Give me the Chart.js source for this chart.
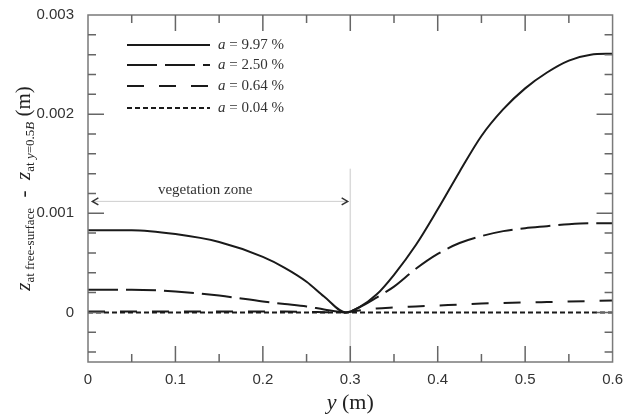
<!DOCTYPE html>
<html>
<head>
<meta charset="utf-8">
<script src="https://cdn.jsdelivr.net/npm/chart.js@4/dist/chart.umd.min.js"></script>
<style>
  html, body { margin: 0; padding: 0; background: #fff; }
</style>
</head>
<body>
<canvas id="chart" width="624" height="418"></canvas>
<script>
// ===== DATA =====
const yPositions = [0, 0.05, 0.1, 0.15, 0.2, 0.225, 0.25, 0.27, 0.295, 0.31, 0.33, 0.35, 0.375, 0.4, 0.425, 0.45, 0.475, 0.5, 0.525, 0.55, 0.575, 0.6];
const dz997 = [0.00083, 0.00083, 0.00079, 0.00071, 0.00056, 0.00045, 0.00031, 0.00016, 0, 0.00005, 0.00018, 0.00038, 0.00068, 0.00104, 0.00142, 0.00178, 0.00205, 0.00226, 0.00242, 0.00254, 0.0026, 0.00261];
const dz250 = [0.00023, 0.00023, 0.00021, 0.00017, 0.00011, 0.000085, 0.00006, 0.00003, 0, 0.00005, 0.00015, 0.00026, 0.00044, 0.00059, 0.0007, 0.00077, 0.00082, 0.00085, 0.00087, 0.00089, 0.0009, 0.0009];
const dz064 = [0.00001, 0.00001, 0.00001, 0.00001, 0.00001, 0.00001, 0.000005, 0.000003, 0, 0.00002, 0.00004, 0.00005, 0.00006, 0.00007, 0.00008, 0.00009, 0.000095, 0.0001, 0.000105, 0.00011, 0.000115, 0.00012];
const dz004 = [0, 0, 0, 0, 0, 0, 0, 0, 0, 0, 0, 0, 0, 0, 0, 0, 0, 0, 0, 0, 0, 0];

const seriesLabels = ['9.97', '2.50', '0.64', '0.04'];
const xTickLabels = ['0', '0.1', '0.2', '0.3', '0.4', '0.5', '0.6'];
const yTickLabels = ['0', '0.001', '0.002', '0.003'];

const vegetationEdge = 0.3;

// ===== HELPERS =====
function toPoints(values) {
    return values.map((v, i) => ({ x: yPositions[i], y: v }));
}

function makeDataset(label, values, dash) {
    return {
        label: label,
        data: toPoints(values),
        borderColor: '#1a1a1a',
        borderWidth: 2,
        borderDash: dash,
        pointRadius: 0,
        fill: false,
        cubicInterpolationMode: 'monotone'
    };
}

const SERIF = '"Liberation Serif", "DejaVu Serif", serif';
const SANS = '"Liberation Sans", Arial, sans-serif';

// draw a run of text pieces, each with its own font and baseline shift
function drawRich(ctx, pieces, x, y) {
    let w = 0;
    pieces.forEach(p => { ctx.font = p.font; w += ctx.measureText(p.t).width; });
    let cx = x - w / 2;
    pieces.forEach(p => {
        ctx.font = p.font;
        ctx.fillText(p.t, cx, y + (p.dy || 0));
        cx += ctx.measureText(p.t).width;
    });
}

// frame, inside ticks, annotations, legend and axis titles
const decorPlugin = {
    id: 'decor',
    beforeDatasetsDraw(chart) {
        const ctx = chart.ctx;
        const xs = chart.scales.x, ys = chart.scales.y;
        const area = chart.chartArea;
        ctx.save();

        // vegetation boundary line
        const vx = xs.getPixelForValue(vegetationEdge);
        ctx.strokeStyle = '#dadada';
        ctx.lineWidth = 1.5;
        ctx.beginPath();
        ctx.moveTo(vx, ys.getPixelForValue(0.00145));
        ctx.lineTo(vx, area.bottom);
        ctx.stroke();

        // double arrow for the vegetation zone
        const ay = ys.getPixelForValue(0.00112);
        const ax1 = xs.getPixelForValue(0.005), ax2 = xs.getPixelForValue(0.297);
        ctx.strokeStyle = '#cfcfcf';
        ctx.lineWidth = 1;
        ctx.beginPath();
        ctx.moveTo(ax1, ay);
        ctx.lineTo(ax2, ay);
        ctx.stroke();
        ctx.strokeStyle = '#333';
        ctx.lineWidth = 1.5;
        ctx.beginPath();
        ctx.moveTo(ax1 + 6, ay - 3.5); ctx.lineTo(ax1, ay); ctx.lineTo(ax1 + 6, ay + 3.5);
        ctx.moveTo(ax2 - 6, ay - 3.5); ctx.lineTo(ax2, ay); ctx.lineTo(ax2 - 6, ay + 3.5);
        ctx.stroke();

        ctx.fillStyle = '#333';
        ctx.font = '15px ' + SERIF;
        ctx.textAlign = 'center';
        ctx.textBaseline = 'alphabetic';
        ctx.fillText('vegetation zone', xs.getPixelForValue(0.134), ys.getPixelForValue(0.00119));
        ctx.restore();
    },
    afterDraw(chart) {
        const ctx = chart.ctx;
        const xs = chart.scales.x, ys = chart.scales.y;
        const area = chart.chartArea;
        ctx.save();

        // frame
        ctx.strokeStyle = '#7a7a7a';
        ctx.lineWidth = 1.5;
        ctx.strokeRect(area.left, area.top, area.right - area.left, area.bottom - area.top);

        // inside ticks on all four sides
        ctx.strokeStyle = '#666';
        ctx.beginPath();
        for (let i = 1; i < 12; i++) {
            const v = i * 0.05;
            const px = xs.getPixelForValue(v);
            const len = i % 2 === 0 ? 16 : 8;
            ctx.moveTo(px, area.bottom); ctx.lineTo(px, area.bottom - len);
            ctx.moveTo(px, area.top); ctx.lineTo(px, area.top + len);
        }
        for (let i = -2; i < 15; i++) {
            const v = i * 0.0002;
            const py = ys.getPixelForValue(v);
            const len = i % 5 === 0 ? 16 : 8;
            ctx.moveTo(area.left, py); ctx.lineTo(area.left + len, py);
            ctx.moveTo(area.right, py); ctx.lineTo(area.right - len, py);
        }
        ctx.stroke();

        // legend
        const rows = [45, 65, 86, 108];
        chart.data.datasets.forEach((ds, i) => {
            const y = rows[i];
            ctx.strokeStyle = ds.borderColor;
            ctx.lineWidth = ds.borderWidth;
            ctx.setLineDash(ds.borderDash || []);
            ctx.beginPath();
            ctx.moveTo(127, y);
            ctx.lineTo(210, y);
            ctx.stroke();
            ctx.setLineDash([]);
            ctx.fillStyle = '#333';
            ctx.textAlign = 'left';
            ctx.textBaseline = 'middle';
            ctx.font = 'italic 15px ' + SERIF;
            ctx.fillText('a', 218, y);
            const aw = ctx.measureText('a').width;
            ctx.font = '15px ' + SERIF;
            ctx.fillText(' = ' + ds.label + ' %', 218 + aw, y);
        });

        // x axis title
        ctx.fillStyle = '#222';
        ctx.textAlign = 'left';
        ctx.textBaseline = 'alphabetic';
        drawRich(ctx, [
            { t: 'y', font: 'italic 22px ' + SERIF },
            { t: ' (m)', font: '22px ' + SERIF }
        ], (area.left + area.right) / 2, 409);

        // y axis title, rotated
        ctx.save();
        ctx.translate(30, (area.top + area.bottom) / 2);
        ctx.rotate(-Math.PI / 2);
        const big = '21px ' + SERIF, bigI = 'italic 21px ' + SERIF;
        const sub = '13px ' + SERIF, subI = 'italic 13px ' + SERIF;
        drawRich(ctx, [
            { t: 'z', font: bigI },
            { t: 'at free-surface', font: sub, dy: 4 },
            { t: '  -  ', font: big },
            { t: 'z', font: bigI },
            { t: 'at ', font: sub, dy: 4 },
            { t: 'y', font: subI, dy: 4 },
            { t: '=0.5', font: sub, dy: 4 },
            { t: 'B', font: subI, dy: 4 },
            { t: ' (m)', font: big }
        ], 0, 0);
        ctx.restore();

        ctx.restore();
    }
};

new Chart(document.getElementById('chart'), {
    type: 'line',
    data: {
        datasets: [
            makeDataset(seriesLabels[0], dz997, []),
            makeDataset(seriesLabels[1], dz250, [30, 8]),
            makeDataset(seriesLabels[2], dz064, [17, 15]),
            makeDataset(seriesLabels[3], dz004, [5, 3])
        ]
    },
    options: {
        responsive: false,
        animation: false,
        devicePixelRatio: 1,
        layout: { padding: { left: 0, top: 12, right: 11, bottom: 0 } },
        plugins: {
            legend: { display: false },
            tooltip: { enabled: false }
        },
        scales: {
            x: {
                type: 'linear',
                min: 0,
                max: 0.6,
                grid: { display: false },
                border: { display: false },
                ticks: {
                    stepSize: 0.1,
                    padding: 1,
                    color: '#333',
                    font: { family: SANS, size: 15 },
                    maxRotation: 0,
                    callback: (v) => xTickLabels[Math.round(v * 10)] ?? ''
                },
                afterFit: (s) => { s.height = 56; }
            },
            y: {
                type: 'linear',
                min: -0.0005,
                max: 0.003,
                grid: { display: false },
                border: { display: false },
                afterBuildTicks: (s) => { s.ticks = s.ticks.filter(t => t.value > -1e-9); },
                ticks: {
                    stepSize: 0.001,
                    padding: 6,
                    color: '#333',
                    font: { family: SANS, size: 15 },
                    callback: (v) => yTickLabels[Math.round(v * 1000)] ?? ''
                },
                afterFit: (s) => { s.width = 88; }
            }
        }
    },
    plugins: [decorPlugin]
});
</script>
</body>
</html>
